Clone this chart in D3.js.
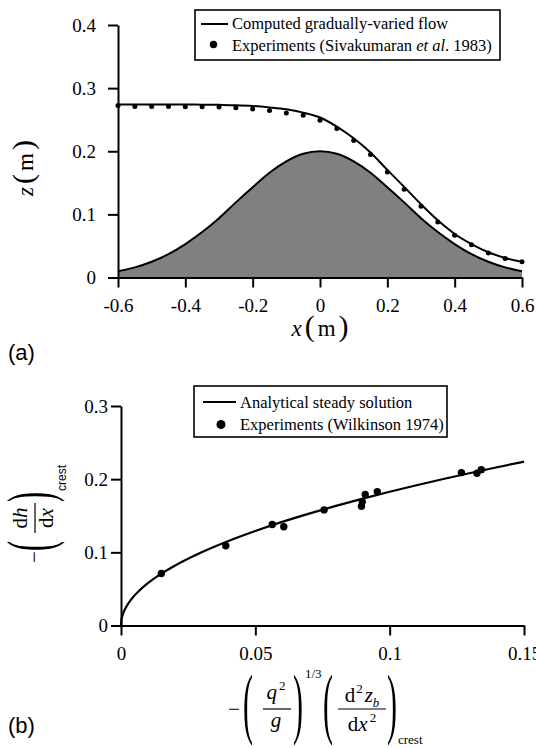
<!DOCTYPE html>
<html>
<head>
<meta charset="utf-8">
<script src="https://cdn.jsdelivr.net/npm/d3@7"></script>
<style>
  body { margin: 0; background: #fff; }
  svg { display: block; }
</style>
</head>
<body>
<svg id="fig" width="536" height="748" font-family="Liberation Serif, Times New Roman, serif"></svg>
<script>
// (a) free surface over the bump
const profileX = [-0.6, -0.55, -0.5, -0.45, -0.4, -0.35, -0.3, -0.25, -0.2, -0.15, -0.1, -0.05, 0,
  0.05, 0.1, 0.15, 0.2, 0.25, 0.3, 0.35, 0.4, 0.45, 0.5, 0.55, 0.6];
const bedZ = [0.010, 0.016, 0.025, 0.037, 0.053, 0.072, 0.094, 0.119, 0.143, 0.166, 0.184, 0.196, 0.200,
  0.196, 0.184, 0.166, 0.143, 0.119, 0.094, 0.072, 0.053, 0.037, 0.025, 0.016, 0.010];
const surfaceZ = [0.274, 0.274, 0.274, 0.274, 0.274, 0.2738, 0.2735, 0.273, 0.2718, 0.2695, 0.2665, 0.2612, 0.2535,
  0.239, 0.2205, 0.198, 0.1705, 0.1435, 0.116, 0.0905, 0.069, 0.053, 0.040, 0.031, 0.025];
const measuredZ = [0.2725, 0.271, 0.271, 0.271, 0.2705, 0.2705, 0.270, 0.269, 0.267, 0.2645, 0.2605, 0.257, 0.249,
  0.236, 0.217, 0.195, 0.167, 0.140, 0.113, 0.088, 0.067, 0.052, 0.039, 0.030, 0.025];
const profileXTicks = [-0.6, -0.4, -0.2, 0, 0.2, 0.4, 0.6];
const profileZTicks = [0, 0.1, 0.2, 0.3, 0.4];

// (b) surface slope at the crest against bed curvature
const curvatureX = [0, 0.0002, 0.0005, 0.001, 0.002, 0.004, 0.007, 0.01, 0.015, 0.02, 0.03, 0.04, 0.05,
  0.06, 0.07, 0.08, 0.09, 0.1, 0.11, 0.12, 0.13, 0.14, 0.15];
const slopeY = [0, 0.0082, 0.0129, 0.0183, 0.0258, 0.0366, 0.0484, 0.0578, 0.0708, 0.0817, 0.1001, 0.1156, 0.1292,
  0.1416, 0.1529, 0.1635, 0.1734, 0.1828, 0.1917, 0.2002, 0.2084, 0.2163, 0.2239];
const wilkinsonX = [0.015, 0.039, 0.0563, 0.0606, 0.0756, 0.0895, 0.0898, 0.0909, 0.0954, 0.1267, 0.1325, 0.1341];
const wilkinsonY = [0.071, 0.109, 0.138, 0.135, 0.158, 0.163, 0.169, 0.179, 0.183, 0.209, 0.208, 0.213];
const curvatureXTicks = [0, 0.05, 0.1, 0.15];
const slopeYTicks = [0, 0.1, 0.2, 0.3];

const SERIF = 'Liberation Serif, Times New Roman, serif';
const SANS = 'Liberation Sans, Arial, sans-serif';
const svg = d3.select('#fig');

function styleAxis(g) {
  g.attr('font-family', SERIF).attr('font-size', 19);
  g.select('.domain').attr('stroke-width', 2);
  g.selectAll('.tick line').attr('stroke-width', 2);
  g.selectAll('.tick text').attr('fill', '#000');
}

// tall thin bracket: glyph stretched vertically around (cx, cy)
function bigParen(sel, ch, cx, cy, size, sy) {
  sel.append('text')
     .attr('transform', `translate(${cx},${cy}) scale(1,${sy})`)
     .attr('y', 0.25 * size)
     .attr('text-anchor', 'middle')
     .attr('font-size', size)
     .text(ch);
}

function legend(x, y, w, h, rows, dotR) {
  const g = svg.append('g').attr('transform', `translate(${x},${y})`);
  g.append('rect').attr('width', w).attr('height', h)
   .attr('fill', '#fff').attr('stroke', '#000').attr('stroke-width', 1.6);
  g.append('line').attr('x1', rows.lineX[0]).attr('x2', rows.lineX[1])
   .attr('y1', rows.lineY).attr('y2', rows.lineY)
   .attr('stroke', '#000').attr('stroke-width', 2);
  g.append('circle').attr('cx', rows.dotX).attr('cy', rows.dotY).attr('r', dotR);
  g.append('text').attr('x', rows.textX).attr('y', rows.base[0])
   .attr('font-size', 16.5).text(rows.labels[0]);
  const t = g.append('text').attr('x', rows.textX).attr('y', rows.base[1]).attr('font-size', 16.5);
  rows.labels[1].forEach(p => t.append('tspan').attr('font-style', p.i ? 'italic' : null).text(p.s));
  return g;
}

// ---------- panel (a) ----------
const xa = d3.scaleLinear().domain([-0.6, 0.6]).range([118, 522]);
const ya = d3.scaleLinear().domain([0, 0.4]).range([277.5, 25]);
const profile = profileX.map((x, i) => ({ x, bed: bedZ[i], eta: surfaceZ[i], obs: measuredZ[i] }));

svg.append('path')
   .datum(profile)
   .attr('fill', '#808080')
   .attr('d', d3.area().x(d => xa(d.x)).y0(ya(0)).y1(d => ya(d.bed)).curve(d3.curveMonotoneX));
svg.append('path')
   .datum(profile)
   .attr('fill', 'none').attr('stroke', '#000').attr('stroke-width', 2)
   .attr('d', d3.line().x(d => xa(d.x)).y(d => ya(d.bed)).curve(d3.curveMonotoneX));
svg.append('path')
   .datum(profile)
   .attr('fill', 'none').attr('stroke', '#000').attr('stroke-width', 2)
   .attr('d', d3.line().x(d => xa(d.x)).y(d => ya(d.eta)).curve(d3.curveMonotoneX));
svg.append('g')
   .selectAll('circle')
   .data(profile)
   .join('circle')
   .attr('cx', d => xa(d.x)).attr('cy', d => ya(d.obs)).attr('r', 2.5);

svg.append('g')
   .attr('transform', `translate(0,${ya(0)})`)
   .call(d3.axisBottom(xa).tickValues(profileXTicks).tickFormat(String)
           .tickSize(10).tickSizeOuter(0).tickPadding(11))
   .call(styleAxis);
svg.append('g')
   .attr('transform', `translate(${xa(-0.6)},0)`)
   .call(d3.axisLeft(ya).tickValues(profileZTicks).tickFormat(String)
           .tickSize(10).tickSizeOuter(0).tickPadding(12))
   .call(styleAxis);

const xLab = svg.append('text').attr('x', 320).attr('y', 336)
                .attr('text-anchor', 'middle').attr('font-size', 23);
xLab.append('tspan').attr('font-style', 'italic').text('x');
xLab.append('tspan').attr('font-size', 30).attr('dx', 3).text('(');
xLab.append('tspan').attr('dx', 3).text('m');
xLab.append('tspan').attr('font-size', 30).attr('dx', 3).text(')');

const zLab = svg.append('text').attr('transform', 'translate(0,168) rotate(-90)')
                .attr('y', 33).attr('text-anchor', 'middle').attr('font-size', 23);
zLab.append('tspan').attr('font-style', 'italic').text('z');
zLab.append('tspan').attr('font-size', 30).attr('dx', 3).text('(');
zLab.append('tspan').attr('dx', 3).text('m');
zLab.append('tspan').attr('font-size', 30).attr('dx', 3).text(')');

svg.append('text').attr('x', 8).attr('y', 360)
   .attr('font-family', SANS).attr('font-size', 22).text('(a)');

legend(195, 10, 305, 50, {
  lineX: [6, 33], lineY: 14, dotX: 18.5, dotY: 34.5, textX: 37, base: [19, 40.5],
  labels: ['Computed gradually-varied flow',
           [{ s: 'Experiments (Sivakumaran ' }, { s: 'et al', i: true }, { s: '. 1983)' }]]
}, 3.7);

// ---------- panel (b) ----------
const xb = d3.scaleLinear().domain([0, 0.15]).range([121, 524]);
const yb = d3.scaleLinear().domain([0, 0.3]).range([625.5, 406]);
const theory = curvatureX.map((x, i) => ({ x, y: slopeY[i] }));
const wilk = wilkinsonX.map((x, i) => ({ x, y: wilkinsonY[i] }));

svg.append('path')
   .datum(theory)
   .attr('fill', 'none').attr('stroke', '#000').attr('stroke-width', 2.2)
   .attr('d', d3.line().x(d => xb(d.x)).y(d => yb(d.y)).curve(d3.curveMonotoneX));
svg.append('g')
   .selectAll('circle')
   .data(wilk)
   .join('circle')
   .attr('cx', d => xb(d.x)).attr('cy', d => yb(d.y)).attr('r', 3.7);

svg.append('g')
   .attr('transform', `translate(0,${yb(0)})`)
   .call(d3.axisBottom(xb).tickValues(curvatureXTicks).tickFormat(String)
           .tickSize(10).tickSizeOuter(0).tickPadding(11))
   .call(styleAxis);
svg.append('g')
   .attr('transform', `translate(${xb(0)},0)`)
   .call(d3.axisLeft(yb).tickValues(slopeYTicks).tickFormat(String)
           .tickSize(10).tickSizeOuter(0).tickPadding(3))
   .call(styleAxis);

// x label: -(q^2/g)^{1/3} (d^2 z_b / dx^2)_crest
const bx = svg.append('g');
bx.append('text').attr('x', 234).attr('y', 716).attr('text-anchor', 'middle').attr('font-size', 21).text('\u2212');
bigParen(bx, '(', 248, 709, 30, 2.6);
const qt = bx.append('text').attr('x', 276).attr('y', 699).attr('text-anchor', 'middle').attr('font-size', 21);
qt.append('tspan').attr('font-style', 'italic').text('q');
qt.append('tspan').attr('font-size', 13).attr('dy', -9).attr('dx', 2).text('2');
bx.append('line').attr('x1', 263).attr('x2', 291).attr('y1', 709).attr('y2', 709)
  .attr('stroke', '#000').attr('stroke-width', 1.2);
bx.append('text').attr('x', 276).attr('y', 727).attr('text-anchor', 'middle')
  .attr('font-size', 21).attr('font-style', 'italic').text('g');
bigParen(bx, ')', 298, 709, 30, 2.6);
bx.append('text').attr('x', 305).attr('y', 678).attr('font-size', 13).text('1/3');
bigParen(bx, '(', 328, 709, 30, 2.6);
const num = bx.append('text').attr('x', 362).attr('y', 702).attr('text-anchor', 'middle').attr('font-size', 21);
num.append('tspan').text('d');
num.append('tspan').attr('font-size', 13).attr('dy', -9).attr('dx', 1).text('2');
num.append('tspan').attr('font-style', 'italic').attr('dy', 9).attr('dx', 2).text('z');
num.append('tspan').attr('font-style', 'italic').attr('font-size', 13).attr('dy', 5).text('b');
bx.append('line').attr('x1', 338).attr('x2', 386).attr('y1', 709).attr('y2', 709)
  .attr('stroke', '#000').attr('stroke-width', 1.2);
const den = bx.append('text').attr('x', 362).attr('y', 731).attr('text-anchor', 'middle').attr('font-size', 21);
den.append('tspan').text('d');
den.append('tspan').attr('font-style', 'italic').text('x');
den.append('tspan').attr('font-size', 13).attr('dy', -9).attr('dx', 2).text('2');
bigParen(bx, ')', 392, 709, 30, 2.6);
bx.append('text').attr('x', 398).attr('y', 744).attr('font-size', 13).text('crest');

// y label: -(dh/dx)_crest, rotated
const by = svg.append('g').attr('transform', 'translate(35,518) rotate(-90)');
by.append('text').attr('x', -39).attr('y', 6).attr('text-anchor', 'middle').attr('font-size', 21).text('\u2212');
bigParen(by, '(', -28, 0, 30, 2.1);
const dh = by.append('text').attr('x', 0).attr('y', -8).attr('text-anchor', 'middle').attr('font-size', 21);
dh.append('tspan').text('d');
dh.append('tspan').attr('font-style', 'italic').text('h');
by.append('line').attr('x1', -15).attr('x2', 15).attr('y1', 0).attr('y2', 0)
  .attr('stroke', '#000').attr('stroke-width', 1.2);
const dx = by.append('text').attr('x', 0).attr('y', 18).attr('text-anchor', 'middle').attr('font-size', 21);
dx.append('tspan').text('d');
dx.append('tspan').attr('font-style', 'italic').text('x');
bigParen(by, ')', 21, 0, 30, 2.1);
by.append('text').attr('x', 27).attr('y', 31).attr('font-family', SANS)
  .attr('font-size', 12).text('crest');

svg.append('text').attr('x', 8).attr('y', 733)
   .attr('font-family', SANS).attr('font-size', 22).text('(b)');

legend(194, 386, 253, 51, {
  lineX: [9, 42], lineY: 16, dotX: 27, dotY: 38.5, textX: 46, base: [22, 43.5],
  labels: ['Analytical steady solution', [{ s: 'Experiments (Wilkinson 1974)' }]]
}, 4.5);
</script>
</body>
</html>
